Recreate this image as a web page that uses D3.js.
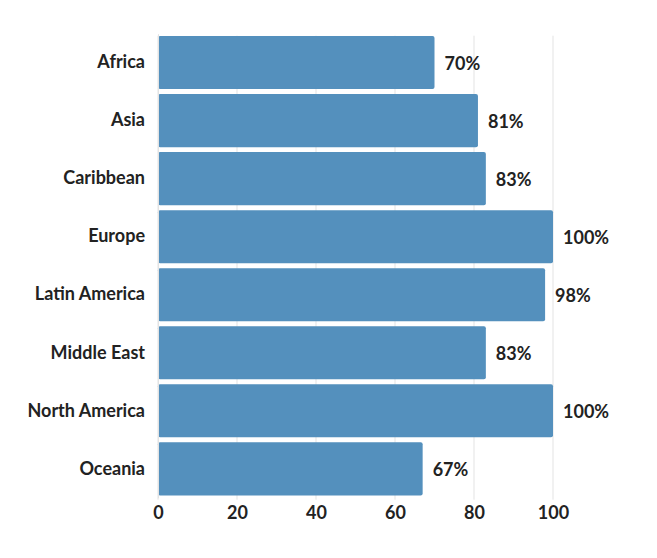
<!DOCTYPE html>
<html>
<head>
<meta charset="utf-8">
<script src="https://cdn.jsdelivr.net/npm/d3@7"></script>
<style>
  body { margin: 0; background: #fff; }
  text { font-family: Lato, "Open Sans", sans-serif; fill: #222; }
</style>
</head>
<body>
<script>
//chart data
var regions = ["Africa", "Asia", "Caribbean", "Europe", "Latin America", "Middle East", "North America", "Oceania"];
var percents = [70, 81, 83, 100, 98, 83, 100, 67];
var xTicks = [0, 20, 40, 60, 80, 100];

var width = 657,
  height = 558;

var svg = d3.select("body")
  .append("svg")
  .attr("width", width)
  .attr("height", height);

//scales
var x = d3.scaleLinear()
  .domain([0, 100])
  .range([158, 553]);

var y = d3.scaleBand()
  .domain(regions)
  .range([33.7, 497.7])
  .paddingInner(0.085)
  .paddingOuter(0.04);

//grid lines behind bars
svg.selectAll(".grid")
  .data(xTicks)
  .enter()
  .append("line")
  .attr("class", "grid")
  .attr("x1", function(d) { return x(d); })
  .attr("x2", function(d) { return x(d); })
  .attr("y1", y.range()[0] + 2)
  .attr("y2", y.range()[1] + 2)
  .attr("stroke", "#e3e3e3")
  .attr("stroke-width", 1);

//bars
svg.selectAll(".bar")
  .data(regions)
  .enter()
  .append("rect")
  .attr("class", "bar")
  .attr("x", x(0))
  .attr("y", function(d) { return y(d); })
  .attr("width", function(d, i) { return x(percents[i]) - x(0); })
  .attr("height", y.bandwidth())
  .attr("rx", 2)
  .attr("fill", "#5490bd");

//value labels
svg.selectAll(".val")
  .data(regions)
  .enter()
  .append("text")
  .attr("class", "val")
  .attr("x", function(d, i) { return x(percents[i]) + 10; })
  .attr("y", function(d) { return y(d) + y.bandwidth() / 2 + 3; })
  .attr("dominant-baseline", "middle")
  .style("font-size", "18px")
  .style("font-weight", "bold")
  .text(function(d, i) { return percents[i] + "%"; });

//category axis
var yAxis = svg.append("g")
  .attr("transform", "translate(" + x(0) + ",0)")
  .call(d3.axisLeft(y).tickSize(0).tickPadding(13));
yAxis.select(".domain").attr("stroke", "#e3e3e3");
yAxis.selectAll("text")
  .style("font-size", "18px")
  .style("font-weight", "bold")
  .style("font-family", "Lato, sans-serif")
  .attr("fill", "#222");

//value axis
var xAxis = svg.append("g")
  .attr("transform", "translate(0," + y.range()[1] + ")")
  .call(d3.axisBottom(x).tickValues(xTicks).tickSize(0).tickPadding(9));
xAxis.select(".domain").remove();
xAxis.selectAll("text")
  .style("font-size", "18px")
  .style("font-weight", "bold")
  .style("font-family", "Lato, sans-serif")
  .attr("fill", "#222");
</script>
</body>
</html>
